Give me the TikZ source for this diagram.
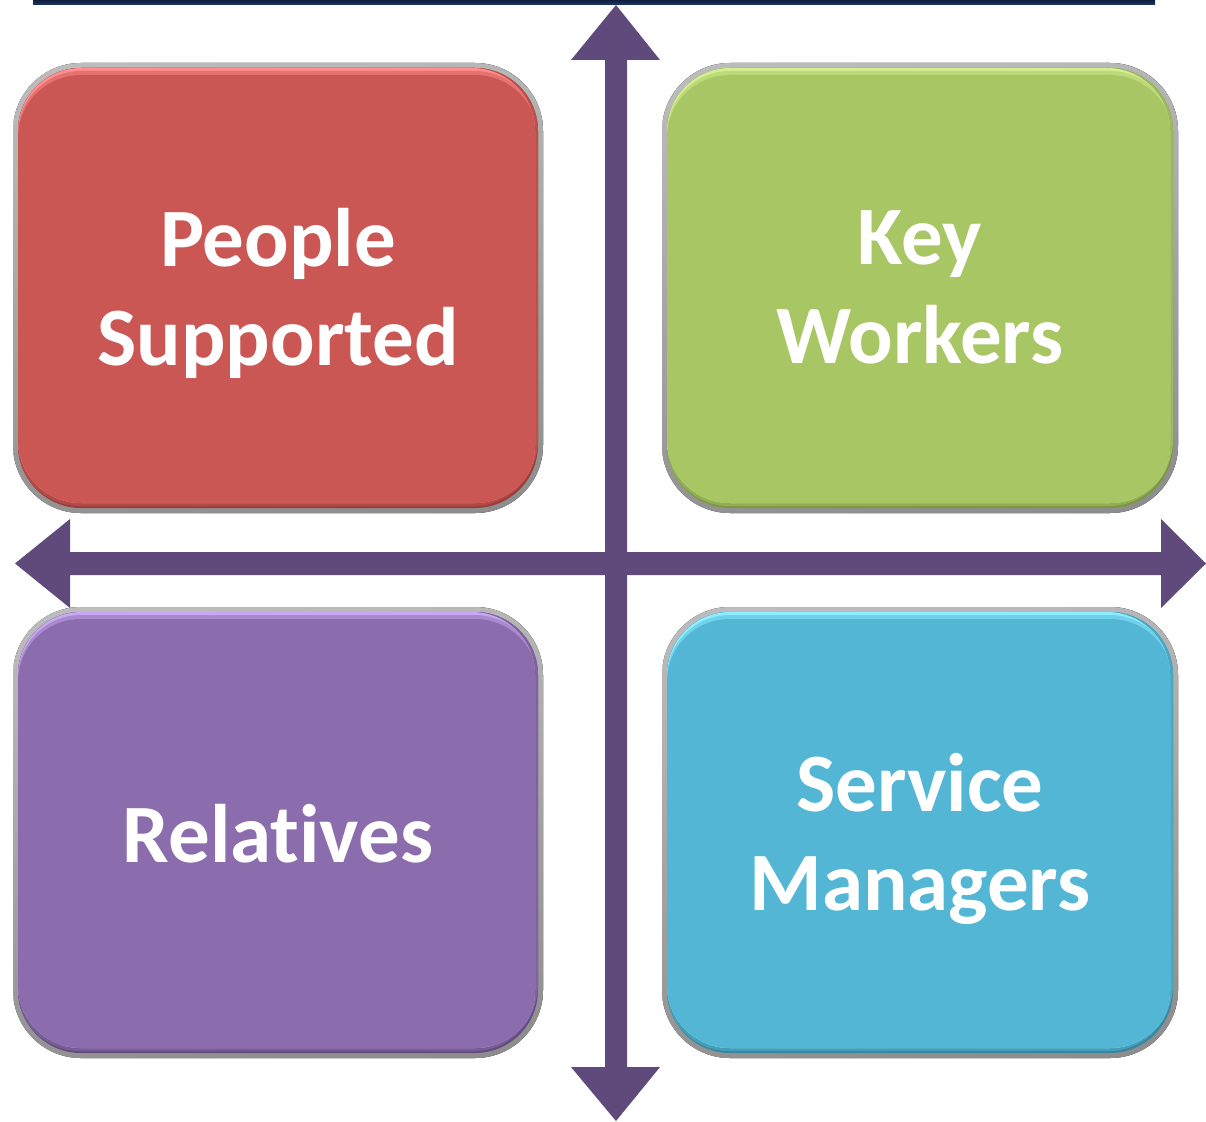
\documentclass[tikz,border=0pt]{standalone}
\usepackage{fontspec}
\setmainfont{Carlito}[Ligatures=NoCommon]
\definecolor{redmain}{HTML}{CB5755}
\definecolor{redlight}{HTML}{FF8E8C}
\definecolor{reddark}{HTML}{9A3E3C}
\definecolor{greenmain}{HTML}{A8C664}
\definecolor{greenlight}{HTML}{D2EE90}
\definecolor{greendark}{HTML}{7C9646}
\definecolor{purplemain}{HTML}{8B6DAD}
\definecolor{purplelight}{HTML}{C8A8F0}
\definecolor{purpledark}{HTML}{634C80}
\definecolor{cyanmain}{HTML}{52B6D4}
\definecolor{cyanlight}{HTML}{8CEEFF}
\definecolor{cyandark}{HTML}{38869E}
\definecolor{arrowc}{HTML}{604A7B}
\definecolor{navy}{HTML}{1F3864}
\definecolor{navydark}{HTML}{0E1E40}
\tikzset{
  lbl/.style={text=white, align=center, inner sep=0pt,
    font=\fontsize{83}{99}\selectfont\bfseries},
  rc/.style={rounded corners=63pt}
}
\newcommand\quadbox[8]{%
  % #1 name, #2 x, #3 y, #4 w, #5 h, #6 colour prefix, #7 text, #8 yshift
  \fill[left color=gray!20, right color=gray!55, rounded corners=68pt] (#2,#3) rectangle ++(#4,#5);
  \fill[top color=white, bottom color=gray!55, opacity=0.6, rounded corners=68pt] (#2,#3) rectangle ++(#4,#5);
  \begin{scope}
    \clip[rc] (#2+5,#3+5) rectangle ++(#4-10,#5-10);
    \fill[#6dark] (#2,#3) rectangle ++(#4,#5);
    \fill[#6dark!50!#6main, rc] (#2+4,#3+3) rectangle ++(#4-10,#5-10);
    \clip[rc] (#2+5,#3) rectangle ++(#4-10,#5-10);
    \fill[#6dark!30!#6main] (#2,#3) rectangle ++(#4,#5);
    \clip[rc] (#2+2,#3+5) rectangle ++(#4-10,#5-10);
    \fill[#6light] (#2,#3) rectangle ++(#4,#5);
    \fill[#6light!50!#6main, rc] (#2+5,#3+8) rectangle ++(#4-10,#5-10);
    \fill[#6main, rc] (#2+5,#3+12) rectangle ++(#4-10,#5-10);
  \end{scope}
  \node[lbl, yshift=#8] (#1) at (#2+#4/2,#3+#5/2) {#7};
}
\begin{document}
\begin{tikzpicture}[x=1pt,y=-1pt]
\useasboundingbox (0,0) rectangle (1206,1121);
% top navy rule
\fill[top color=navydark, bottom color=navy] (33,0) rectangle (1155,5);
% boxes
\quadbox{ps}{13}{63}{530}{450}{red}{People\\Supported}{-5pt}
\quadbox{kw}{662}{63}{516}{450}{green}{Key\\Workers}{1pt}
\quadbox{rel}{13}{607}{530}{451}{purple}{Relatives}{-1pt}
\quadbox{sm}{662}{607}{516}{451}{cyan}{Service\\Managers}{-6pt}
% axes (double arrows)
\coordinate (vt) at (616,5);
\coordinate (vb) at (616,1121);
\coordinate (hl) at (15,563.5);
\coordinate (hr) at (1206,563.5);
\fill[arrowc] (vt) -- (660,60) -- (627,60) -- (627,1067) -- (660,1067) -- (vb)
  -- (571,1067) -- (605,1067) -- (605,60) -- (571,60) -- cycle;
\fill[arrowc] (hl) -- (70,519) -- (70,552) -- (1161,552) -- (1161,519) -- (hr)
  -- (1161,608) -- (1161,575) -- (70,575) -- (70,608) -- cycle;
\end{tikzpicture}
\end{document}
